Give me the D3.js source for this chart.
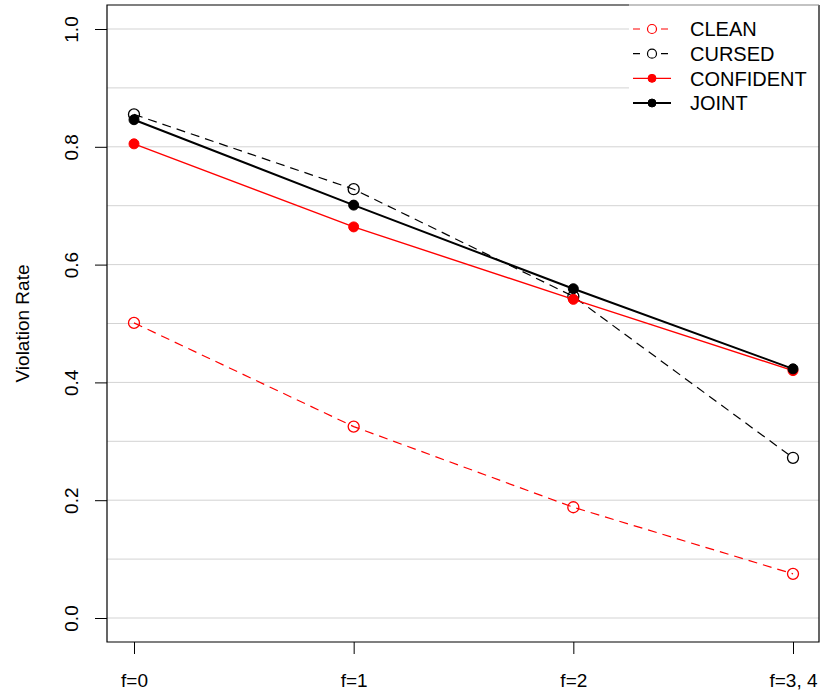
<!DOCTYPE html>
<html>
<head>
<meta charset="utf-8">
<script src="https://cdn.jsdelivr.net/npm/d3@7"></script>
<style>
  body { margin: 0; background: #fff; }
  svg text { font-family: "Liberation Sans", Arial, sans-serif; fill: #000; }
</style>
</head>
<body>
<div id="chart"></div>
<script>
const categories = ["f=0", "f=1", "f=2", "f=3, 4"];
const clean = [0.501, 0.325, 0.188, 0.075];
const cursed = [0.855, 0.728, 0.546, 0.272];
const confident = [0.805, 0.664, 0.541, 0.420];
const joint = [0.846, 0.701, 0.559, 0.423];
const yTicks = [0, 0.2, 0.4, 0.6, 0.8, 1.0];
const gridTicks = [0, 0.1, 0.2, 0.3, 0.4, 0.5, 0.6, 0.7, 0.8, 0.9, 1.0];

const series = [
    { name: "CLEAN", values: clean, color: "red", dash: "9,6", open: true, width: 1.2 },
    { name: "CURSED", values: cursed, color: "black", dash: "9,6", open: true, width: 1.2 },
    { name: "CONFIDENT", values: confident, color: "red", dash: null, open: false, width: 1.4 },
    { name: "JOINT", values: joint, color: "black", dash: null, open: false, width: 2 }
];

const W = 821, H = 692;
const box = { left: 107, right: 819, top: 5, bottom: 642 };
const fontSize = 19;

const svg = d3.select("#chart").append("svg")
    .attr("width", W)
    .attr("height", H);

const x = d3.scalePoint()
    .domain(categories)
    .range([134, 793]);

const y = d3.scaleLinear()
    .domain([0, 1])
    .range([618, 29]);

// grid lines
svg.append("g")
    .selectAll("line")
    .data(gridTicks)
    .enter()
    .append("line")
    .attr("x1", box.left)
    .attr("x2", box.right)
    .attr("y1", d => y(d))
    .attr("y2", d => y(d))
    .attr("stroke", "#d3d3d3")
    .attr("stroke-width", 1);

// y axis
const yAxis = svg.append("g")
    .attr("transform", `translate(${box.left},0)`)
    .call(d3.axisLeft(y).tickValues(yTicks).tickFormat(d3.format(".1f")).tickSize(12).tickSizeOuter(0));
yAxis.select(".domain").remove();
yAxis.selectAll(".tick line").attr("stroke", "#000");
yAxis.selectAll(".tick text")
    .attr("font-size", fontSize)
    .attr("transform", "rotate(-90)")
    .attr("x", 0)
    .attr("y", -29)
    .attr("dy", "0")
    .style("text-anchor", "middle")
    .style("font-family", "'Liberation Sans', Arial, sans-serif");

// x axis
const xAxis = svg.append("g")
    .attr("transform", `translate(0,${box.bottom})`)
    .call(d3.axisBottom(x).tickSize(12).tickSizeOuter(0));
xAxis.select(".domain").remove();
xAxis.selectAll(".tick line").attr("stroke", "#000");
xAxis.selectAll(".tick text")
    .attr("font-size", fontSize)
    .attr("y", 38)
    .attr("dy", "0.35em")
    .style("font-family", "'Liberation Sans', Arial, sans-serif");

// y label
svg.append("text")
    .attr("transform", `translate(29,${(y(0) + y(1)) / 2}) rotate(-90)`)
    .attr("text-anchor", "middle")
    .attr("font-size", fontSize)
    .text("Violation Rate");

// series
const line = d3.line()
    .x((d, i) => x(categories[i]))
    .y(d => y(d));

series.forEach(s => {
    const g = svg.append("g");
    g.append("path")
        .datum(s.values)
        .attr("d", line)
        .attr("fill", "none")
        .attr("stroke", s.color)
        .attr("stroke-width", s.width)
        .attr("stroke-dasharray", s.dash);
    g.selectAll("circle")
        .data(s.values)
        .enter()
        .append("circle")
        .attr("cx", (d, i) => x(categories[i]))
        .attr("cy", d => y(d))
        .attr("r", s.open ? 5.5 : 5)
        .attr("fill", s.open ? "none" : s.color)
        .attr("stroke", s.color)
        .attr("stroke-width", s.open ? 1.3 : 1);
});

// legend
const legend = svg.append("g");
legend.append("rect")
    .attr("x", 629)
    .attr("y", box.top)
    .attr("width", box.right - 629)
    .attr("height", 122)
    .attr("fill", "#fff");

const ly = d3.scalePoint()
    .domain(series.map(d => d.name))
    .range([29, 103]);

series.forEach(s => {
    const row = legend.append("g").attr("transform", `translate(0,${ly(s.name)})`);
    row.append("line")
        .attr("x1", 633)
        .attr("x2", 671)
        .attr("stroke", s.color)
        .attr("stroke-width", s.width)
        .attr("stroke-dasharray", s.dash ? "7,7" : null);
    row.append("circle")
        .attr("cx", 652)
        .attr("r", s.open ? 4.5 : 4)
        .attr("fill", s.open ? "#fff" : s.color)
        .attr("stroke", s.color)
        .attr("stroke-width", s.open ? 1.2 : 1);
    row.append("text")
        .attr("x", 690)
        .attr("dy", "0.36em")
        .attr("font-size", 20)
        .text(s.name);
});

// plot frame
svg.append("path")
    .attr("d", `M629,${box.top}H${box.left}V${box.bottom}H${box.right}V${box.top}`)
    .attr("fill", "none")
    .attr("stroke", "#000")
    .attr("stroke-width", 1.2);
svg.append("line")
    .attr("x1", 629)
    .attr("x2", box.right)
    .attr("y1", box.top)
    .attr("y2", box.top)
    .attr("stroke", "#888")
    .attr("stroke-width", 1.2);
</script>
</body>
</html>
